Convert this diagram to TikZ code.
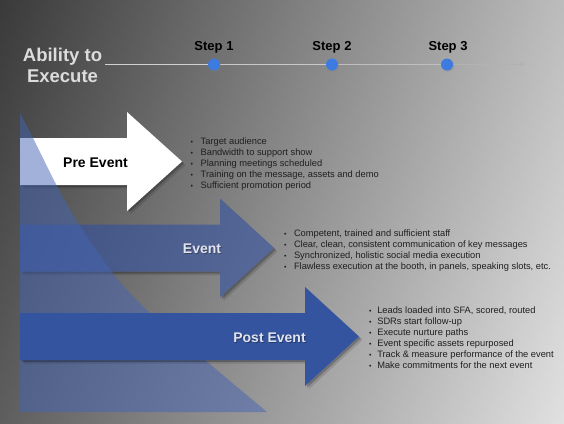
\documentclass[tikz,border=0pt]{standalone}
\usepackage{fontspec}
\setmainfont{Liberation Sans}
\usetikzlibrary{arrows.meta,shadows}
\definecolor{bgdark}{HTML}{444444}
\definecolor{bglight}{HTML}{DCDCDC}
\definecolor{triblue}{RGB}{68,100,180}
\definecolor{evblue}{RGB}{50,80,160}
\definecolor{postblue}{RGB}{52,84,160}
\definecolor{dotblue}{HTML}{3D7BE0}
\definecolor{titlegray}{HTML}{DCDCDC}
\definecolor{lbllight}{HTML}{E2E4EC}
\newcommand\arrowshape[4]{(#1,#4-23.5) -- (#2,#4-23.5) -- (#2,#4-49.5) -- (#3,#4) -- (#2,#4+49.5) -- (#2,#4+23.5) -- (#1,#4+23.5) -- cycle}
\newcommand\softshadow[4]{%
  \begin{scope}[even odd rule]
    \clip (0,0) rectangle (564,423) \arrowshape{#1}{#2}{#3}{#4};
    \fill[black, opacity=0.12, xshift=3.5pt, yshift=-3.5pt] \arrowshape{#1}{#2}{#3}{#4};
    \fill[black, opacity=0.22, xshift=1.8pt, yshift=-1.8pt] \arrowshape{#1}{#2}{#3}{#4};
  \end{scope}}
\newcommand\bul{\makebox[\bw][l]{\fontsize{7}{7}\selectfont\textbullet}}
\tikzset{
  lbl/.style={font=\fontsize{14}{16}\selectfont\bfseries, inner sep=0pt},
  lblshadow/.style={lbl, text=black, opacity=0.3},
  steplbl/.style={font=\fontsize{13}{15}\selectfont\bfseries, inner sep=0pt, anchor=base, text=black},
  dot/.style={circle, fill=dotblue, minimum size=12pt, inner sep=0pt,
    drop shadow={shadow xshift=1pt, shadow yshift=-1.2pt, opacity=0.35}},
  blist/.style={font=\fontsize{9.3}{11}\selectfont, inner sep=0pt, anchor=base west, text=black!88},
  tline/.style={line width=1.6pt},
}
\begin{document}
\begin{tikzpicture}[x=1pt,y=-1pt]
\useasboundingbox (0,0) rectangle (564,423);
% background
\shade[left color=bgdark, right color=bglight] (0,0) rectangle (564,423);
\shade[top color=black, bottom color=white, opacity=0.14] (0,0) rectangle (564,423);

% timeline
\coordinate (tl0) at (105,64.5);
\coordinate (p1) at (214,64.5);
\coordinate (p2) at (332,64.5);
\coordinate (p3) at (447,64.5);
\coordinate (tl1) at (525,64.5);
\draw[tline, color=black!18] (tl0) -- (p1);
\draw[tline, color=black!21] (p1) -- (p2);
\draw[tline, color=black!25] (p2) -- (p3);
\draw[tline, color=black!30, -{Stealth[length=6pt,width=5pt]}] (p3) -- (tl1);
\node[dot] (s1) at (p1) {};
\node[dot] (s2) at (p2) {};
\node[dot] (s3) at (p3) {};
\node[steplbl] (st1) at (214,50.7) {Step 1};
\node[steplbl] (st2) at (332,50.7) {Step 2};
\node[steplbl] (st3) at (448,50.7) {Step 3};
\node[font=\fontsize{18.5}{21}\selectfont\bfseries, text=titlegray, align=center, inner sep=0pt] (title) at (62.5,65.8) {Ability to\\Execute};

% Pre Event arrow
\softshadow{20}{127}{182}{161.5}
\fill[white] \arrowshape{20}{127}{182}{161.5};
% Event arrow
\softshadow{20}{220}{274}{248}
\fill[evblue, opacity=0.6] \arrowshape{20}{220}{274}{248};
% big translucent triangle
\fill[triblue, opacity=0.5] plot[smooth, tension=0.5] coordinates {(20,113) (33,138) (58,188) (80,226) (115,276) (150,313) (205,360) (267,412)} -- (20,412) -- cycle;
% Post Event arrow
\softshadow{20}{305}{359}{336.5}
\fill[postblue] \arrowshape{20}{305}{359}{336.5};

% labels
\node[lbl, text=black] (pre) at (95.5,163) {Pre Event};
\node[lblshadow] (evs) at (203,250) {Event};
\node[lbl, text=lbllight] (ev) at (202,249) {Event};
\node[lblshadow] (posts) at (270.5,339) {Post Event};
\node[lbl, text=lbllight] (post) at (269.5,338) {Post Event};

% bullet lists
\node[blist] (l1) at (190.5,144.5) {\def\bw{10pt}\begin{tabular}[t]{@{}l@{}}
\bul Target audience\\
\bul Bandwidth to support show\\
\bul Planning meetings scheduled\\
\bul Training on the message, assets and demo\\
\bul Sufficient promotion period
\end{tabular}};
\node[blist] (l2) at (283.8,236.5) {\def\bw{10pt}\begin{tabular}[t]{@{}l@{}}
\bul Competent, trained and sufficient staff\\
\bul Clear, clean, consistent communication of key messages\\
\bul Synchronized, holistic social media execution\\
\bul Flawless execution at the booth, in panels, speaking slots, etc.
\end{tabular}};
\node[blist] (l3) at (368.8,313.5) {\def\bw{8.3pt}\begin{tabular}[t]{@{}l@{}}
\bul Leads loaded into SFA, scored, routed\\
\bul SDRs start follow-up\\
\bul Execute nurture paths\\
\bul Event specific assets repurposed\\
\bul Track \& measure performance of the event\\
\bul Make commitments for the next event
\end{tabular}};
\end{tikzpicture}
\end{document}
